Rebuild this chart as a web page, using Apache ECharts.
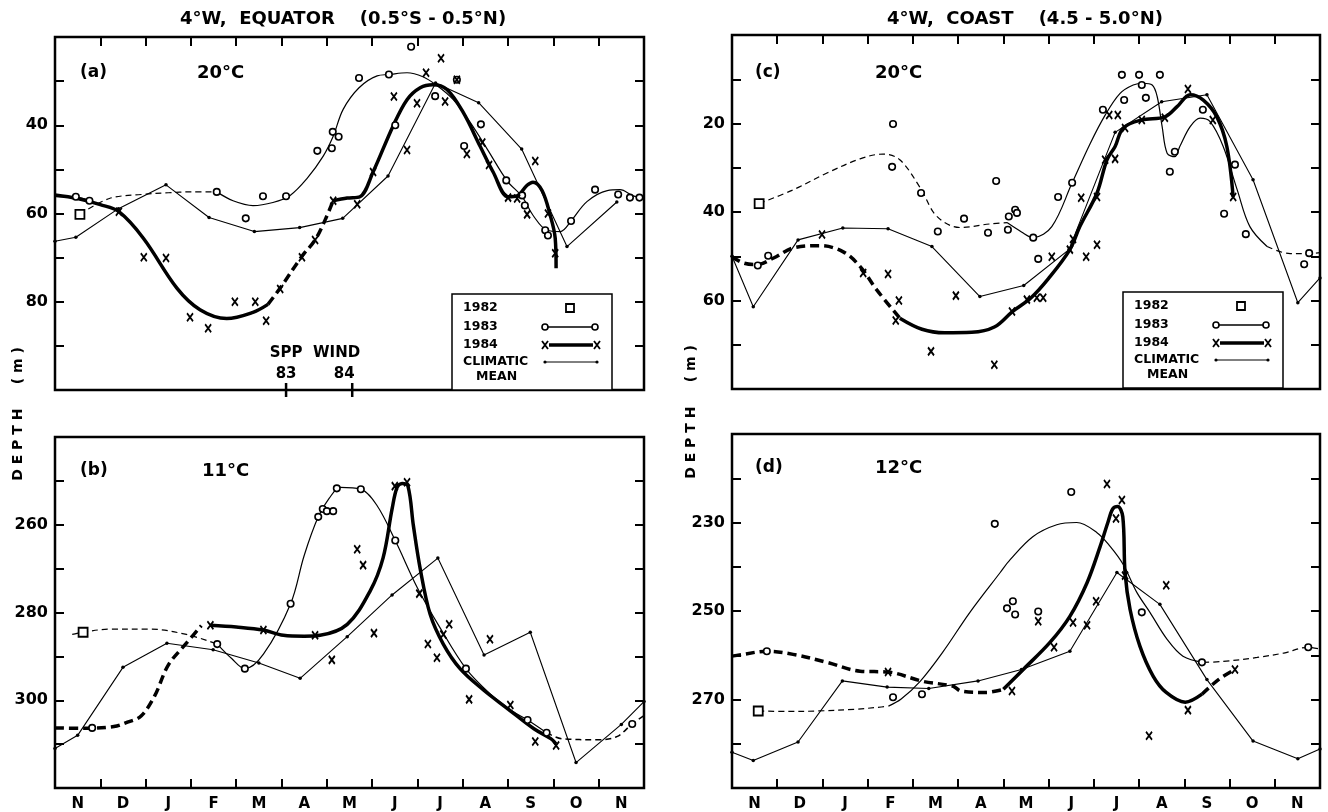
<!DOCTYPE html>
<html>
<head>
<meta charset="utf-8">
<title>4°W isotherm depth</title>
<style>
html, body { margin: 0; padding: 0; background: #fff; }
#chart { width: 1328px; height: 812px; }
</style>
</head>
<body>
<div id="chart"></div>
<script src="https://cdn.jsdelivr.net/npm/echarts@6/dist/echarts.min.js"></script>
<script>
// months from 1 Nov (x = 0) to 1 Dec next year (x = 13)
var months = ['N', 'D', 'J', 'F', 'M', 'A', 'M', 'J', 'J', 'A', 'S', 'O', 'N'];

// ---- (a) equator, 20°C ----
var a82 = [[0.55, 60.2]];
var a83Obs = [[0.46, 56.2], [0.76, 57.1], [3.57, 55.1], [4.21, 61.1], [4.59, 56.1], [5.1, 56.1], [5.79, 45.8], [6.11, 45.2], [6.13, 41.5], [6.26, 42.6], [6.71, 29.3], [7.37, 28.5], [7.51, 40], [7.86, 22.2], [8.39, 33.4], [8.87, 29.7], [9.03, 44.7], [9.4, 39.8], [9.96, 52.5], [10.31, 55.9], [10.37, 58.2], [10.82, 63.8], [10.88, 65], [11.39, 61.7], [11.92, 54.6], [12.43, 55.7], [12.69, 56.4], [12.9, 56.4]];
var a84Obs = [[1.41, 59.6], [1.96, 69.9], [2.45, 70.1], [2.98, 83.5], [3.38, 86], [3.97, 80], [4.42, 80], [4.66, 84.3], [4.97, 77.1], [5.45, 69.9], [5.74, 66], [6.14, 57.1], [6.67, 57.9], [7.02, 50.6], [7.48, 33.5], [7.77, 45.6], [7.99, 35], [8.19, 28.1], [8.52, 24.8], [8.61, 34.6], [8.87, 29.7], [9.09, 46.5], [9.43, 43.9], [9.58, 49], [10.0, 56.4], [10.2, 56.6], [10.42, 60.2], [10.6, 48.1], [10.88, 60], [11.04, 69]];
var a83Left = [[0, 56.2], [0.46, 56.3], [0.76, 57.1]];
var a83Dash = [[0.55, 60.2], [1.2, 56.6], [1.9, 55.7], [2.5, 55.3], [3.0, 55.1], [3.57, 55.1]];
var a83Line = [[3.57, 55.1], [3.93, 57.1], [4.37, 58.2], [4.81, 57.5], [5.19, 55.9], [5.56, 52.1], [5.92, 47], [6.14, 42.5], [6.36, 36.4], [6.71, 31.5], [7.11, 28.8], [7.37, 28.5], [7.77, 28.1], [8.12, 29], [8.43, 31], [8.79, 34.2], [9.16, 39.3], [9.54, 45.4], [9.98, 52.6], [10.31, 56.2], [10.55, 60.4], [10.86, 63.8], [11.15, 64.1], [11.39, 61.7], [11.74, 57.3], [12.19, 54.8], [12.47, 54.6], [12.76, 56], [13, 56.6]];
var a84Line = [[0, 55.8], [0.5, 56.6], [1.0, 58], [1.41, 59.6], [1.95, 65.6], [2.69, 76.9], [3.2, 81.8], [3.79, 83.8], [4.37, 82.4], [4.7, 80.6]];
var a84Dash = [[4.7, 80.6], [4.97, 76.9], [5.45, 69.7], [5.74, 66], [5.96, 61.5], [6.14, 57.1]];
var a84Line2 = [[6.14, 57.1], [6.45, 56.5], [6.73, 56.2], [7.02, 50.6], [7.46, 40.2], [7.77, 34.2], [8.06, 31.5], [8.34, 30.8], [8.65, 31.9], [9.01, 37.1], [9.38, 44.7], [9.67, 50.6], [10.0, 56.2], [10.2, 56], [10.42, 53.6], [10.55, 52.9], [10.75, 54.8], [10.93, 60.4], [11.04, 65.6], [11.06, 72.4]];
var aClim = [[0, 66.3], [0.46, 65.4], [1.4, 58.9], [2.45, 53.5], [3.4, 60.9], [4.4, 64.1], [5.4, 63.2], [6.35, 61.1], [7.35, 51.5], [8.4, 30.4], [9.35, 34.9], [10.3, 45.4], [11.3, 67.5], [12.4, 57.4]];
var sppWind = [[5.1, '83'], [6.56, '84']];

// ---- (b) equator, 11°C ----
var b82 = [[0.62, 284.5]];
var b83Obs = [[0.82, 306.3], [3.58, 287.2], [4.19, 292.8], [5.2, 278], [5.81, 258.2], [5.91, 256.4], [6.0, 256.9], [6.14, 256.9], [6.22, 251.7], [6.75, 251.9], [7.51, 263.6], [9.07, 292.8], [10.43, 304.5], [10.85, 307.4], [12.74, 305.4]];
var b84Obs = [[3.43, 282.9], [4.6, 284], [5.74, 285.2], [6.11, 290.8], [6.67, 265.6], [6.8, 269.2], [7.04, 284.7], [7.5, 251.2], [7.77, 250.3], [8.04, 275.7], [8.23, 287.2], [8.43, 290.3], [8.57, 285], [8.7, 282.7], [9.6, 286.1], [9.14, 299.8], [10.05, 301.1], [10.6, 309.4], [11.06, 310.3]];
var b83Dash = [[0.38, 285], [0.62, 284.5], [1.2, 283.8], [2.1, 283.8], [2.9, 285], [3.58, 287.2]];
var b83Line = [[3.58, 287.2], [3.9, 290.5], [4.19, 292.8], [4.6, 289.5], [5.2, 278], [5.5, 267], [5.81, 258.2], [6.05, 254], [6.3, 251.5], [6.75, 251.9], [7.1, 255.5], [7.51, 263.6], [8.0, 274.4], [8.5, 283.5], [9.07, 292.8], [9.6, 298.5], [10.1, 302.5], [10.43, 304.5], [10.85, 307.4]];
var b83Dash2 = [[10.85, 307.4], [11.2, 308.8], [12.0, 309], [12.4, 308.3], [12.74, 305.4], [13, 303.5]];
var b84Dash = [[0, 306.3], [0.64, 306.4], [1.3, 306], [1.6, 305], [1.9, 303.6], [2.2, 299], [2.5, 292], [2.9, 287], [3.23, 283]];
var b84Line = [[3.43, 282.9], [4.0, 283.3], [4.6, 284], [5.04, 285.2], [5.5, 285.4], [5.85, 285.2], [6.45, 282.7], [6.96, 275], [7.24, 267.6], [7.44, 256.4], [7.55, 251.5], [7.66, 250.6], [7.79, 251.2], [7.91, 260.2], [8.06, 270], [8.28, 280.4], [8.57, 287.2], [8.94, 292.8], [9.45, 297.6], [10.0, 302], [10.57, 306.5], [10.95, 308.8], [11.06, 310]];
var bClim = [[0, 311], [0.5, 308], [1.5, 292.5], [2.47, 287], [3.49, 288.5], [4.5, 291.5], [5.41, 295], [6.45, 285.5], [7.44, 276], [8.45, 267.6], [9.47, 289.7], [10.49, 284.5], [11.5, 314.2], [12.5, 305.5], [13, 300.3]];

// ---- (c) coast, 20°C ----
var c82 = [[0.6, 38.1]];
var c83Obs = [[0.57, 52.1], [0.8, 49.9], [3.56, 20.1], [3.54, 29.8], [4.18, 35.7], [4.55, 44.4], [5.13, 41.5], [5.66, 44.7], [5.84, 33], [6.1, 44], [6.12, 41], [6.26, 39.5], [6.3, 40.2], [6.66, 45.8], [6.77, 50.6], [7.21, 36.6], [7.52, 33.4], [8.2, 16.9], [8.62, 9], [8.67, 14.7], [9.0, 9], [9.06, 11.3], [9.15, 14.2], [9.46, 9], [9.68, 30.9], [9.79, 26.4], [10.41, 16.9], [10.88, 40.4], [11.12, 29.3], [11.36, 45], [12.65, 51.8], [12.76, 49.3]];
var c84Obs = [[1.99, 45.1], [2.9, 53.8], [3.45, 54], [3.69, 60], [3.62, 64.5], [4.95, 58.9], [4.4, 71.5], [5.8, 74.5], [6.19, 62.5], [6.52, 59.8], [6.74, 59.4], [6.88, 59.4], [7.07, 50.1], [7.47, 48.5], [7.54, 46.1], [7.83, 50.1], [8.07, 47.4], [7.72, 36.8], [8.07, 36.6], [8.25, 28.2], [8.47, 28], [8.34, 18.1], [8.53, 18.1], [8.69, 21], [9.06, 19.2], [9.57, 18.7], [10.08, 12.2], [10.63, 19.2], [11.08, 36.6]];
var c83Dash = [[0.6, 38.1], [1.35, 35], [2.1, 31.2], [2.83, 28], [3.34, 26.9], [3.71, 28.2], [4.16, 34.5], [4.53, 41], [5.04, 43.5], [5.7, 42.7], [6.08, 42.4]];
var c83Line = [[6.08, 42.4], [6.4, 44.5], [6.66, 45.8], [7.07, 43.3], [7.52, 33.4], [7.92, 24.5], [8.25, 18.1], [8.58, 13.2], [8.87, 11.3], [9.09, 10.9], [9.29, 11.3], [9.4, 13.9], [9.51, 20.7], [9.62, 26.7], [9.79, 27.5], [9.9, 25.2], [10.13, 20.7], [10.35, 18.8], [10.57, 19.6], [10.86, 25.2], [11.17, 35], [11.45, 43.3], [11.83, 47.8]];
var c83Dash2 = [[11.83, 47.8], [12.34, 49.4], [12.78, 49.4], [13, 49.2]];
var c84Dash = [[0, 50.1], [0.25, 51.5], [0.55, 51.9], [0.92, 50.4], [1.36, 48.1], [1.95, 47.6], [2.46, 49], [2.83, 52.3], [3.2, 57.6], [3.71, 64]];
var c84Line = [[3.71, 64], [4.2, 66.5], [4.7, 67.3], [5.3, 67.2], [5.8, 66], [6.2, 62.5], [6.6, 59.5], [7.0, 55], [7.47, 48.5], [7.69, 43.3], [8.07, 35.7], [8.29, 28.2], [8.47, 25.2], [8.65, 21], [9.06, 19.2], [9.57, 18.5], [9.84, 16.2], [10.13, 13.5], [10.42, 14.7], [10.72, 18.5], [10.94, 25.2], [11.08, 36.6]];
var cClim = [[0, 50], [0.47, 61.4], [1.46, 46.3], [2.45, 43.6], [3.45, 43.8], [4.42, 47.8], [5.48, 59.1], [6.45, 56.6], [7.45, 48.5], [8.47, 22], [9.5, 15.1], [10.5, 13.5], [11.52, 32.7], [12.51, 60.5], [13, 54.9]];

// ---- (d) coast, 12°C ----
var d82 = [[0.58, 272.6]];
var d83Obs = [[0.77, 259.1], [3.56, 269.5], [4.2, 268.8], [5.81, 230.3], [6.08, 249.4], [6.21, 247.8], [6.26, 250.8], [6.77, 250.1], [7.5, 223.1], [9.06, 250.3], [10.39, 261.6], [12.74, 258.2]];
var d84Obs = [[3.45, 263.8], [6.19, 268.1], [6.77, 252.3], [7.12, 258.2], [7.54, 252.6], [7.85, 253.2], [8.05, 247.8], [8.29, 221.3], [8.49, 229.1], [8.62, 224.9], [8.69, 242], [9.22, 278.2], [9.6, 244.2], [10.08, 272.4], [11.12, 263.2]];
var d83Dash = [[0.58, 272.6], [1.2, 272.7], [1.88, 272.6], [2.72, 272.2], [3.2, 271.8], [3.46, 271.5]];
var d83Line = [[3.46, 271.5], [3.74, 269.9], [4.16, 265.9], [4.66, 259.3], [5.26, 250.3], [5.93, 241.3], [6.15, 238.4], [6.65, 233.2], [7.18, 230.5], [7.62, 230], [8.07, 232.3], [8.36, 235.4], [8.65, 239.5], [8.95, 245.8], [9.24, 250.3], [9.62, 256.4], [9.97, 260.2], [10.42, 261.6]];
var d83Dash2 = [[10.42, 261.6], [10.86, 261.4], [11.61, 260.5], [12.2, 259.5], [12.74, 258.2], [13, 258.6]];
var d84Dash = [[0, 260.2], [0.24, 259.8], [0.77, 259.1], [1.35, 259.8], [2.1, 261.6], [2.83, 263.6], [3.45, 263.8], [4.22, 265.9], [4.89, 267], [5.06, 268.1], [5.62, 268.4], [6.0, 267.7]];
var d84Line = [[6.0, 267.7], [6.44, 263.2], [7.03, 257.1], [7.47, 251.2], [7.85, 243.6], [8.14, 235.4], [8.31, 230], [8.42, 226.9], [8.53, 226.4], [8.64, 228.7], [8.69, 241.3], [8.8, 249.6], [9.02, 258], [9.31, 264.7], [9.6, 268.4], [10.02, 270.6], [10.39, 268.8]];
var d84Dash2 = [[10.39, 268.8], [10.77, 265.4], [11.12, 263.2]];
var dClim = [[0, 281.9], [0.47, 283.8], [1.46, 279.6], [2.44, 265.8], [3.43, 267.2], [4.35, 267.5], [5.44, 265.8], [6.4, 263.2], [7.47, 259.1], [8.51, 241.3], [9.46, 248.5], [10.5, 265.5], [11.52, 279.4], [12.51, 283.4], [13, 281.2]];

var FONT = 'DejaVu Sans';
var chart = echarts.init(document.getElementById('chart'));

var grids = [
    { left: 55, top: 37, width: 589, height: 353 },
    { left: 55, top: 437, width: 589, height: 352 },
    { left: 732, top: 35, width: 588, height: 354 },
    { left: 732, top: 434, width: 588, height: 354 }
];
var yRanges = [[20, 100], [240, 320], [0, 80], [210, 290]];
var monthsOnBottom = [false, true, false, true];

var xAxes = [], yAxes = [];
grids.forEach(function (g, i) {
    g.show = true;
    g.borderColor = '#000';
    g.borderWidth = 2.5;
    g.containLabel = false;
    xAxes.push({ type: 'value', gridIndex: i, min: 0, max: 13, show: false });
    xAxes.push({
        type: 'category', gridIndex: i, data: months, boundaryGap: true,
        position: monthsOnBottom[i] ? 'bottom' : 'top',
        axisLine: { show: false },
        axisTick: { show: true, inside: true, length: 9, lineStyle: { color: '#000', width: 2 } },
        axisLabel: { show: monthsOnBottom[i], margin: 9, color: '#000', fontFamily: FONT, fontWeight: 'bold', fontSize: 15 },
        splitLine: { show: false }
    });
    var lo = yRanges[i][0], hi = yRanges[i][1];
    yAxes.push({
        type: 'value', gridIndex: i, min: lo, max: hi, interval: 10, inverse: true,
        axisLine: { show: false },
        axisTick: { inside: true, length: 9, lineStyle: { color: '#000', width: 2 } },
        axisLabel: {
            margin: 7, color: '#000', fontFamily: FONT, fontWeight: 'bold', fontSize: 16,
            formatter: function (v) { return ((v - lo) % 20 === 0 && v !== lo && v !== hi) ? v : ''; }
        },
        splitLine: { show: false }
    });
    yAxes.push({
        type: 'value', gridIndex: i, min: lo, max: hi, interval: 10, inverse: true, position: 'right',
        axisLine: { show: false },
        axisTick: { inside: true, length: 9, lineStyle: { color: '#000', width: 2 } },
        axisLabel: { show: false },
        splitLine: { show: false }
    });
});

var series = [];
function curve(g, data, width, dashed) {
    series.push({
        type: 'line', xAxisIndex: 2 * g, yAxisIndex: 2 * g, data: data,
        smooth: 0.35, showSymbol: false, silent: true, z: 2,
        lineStyle: { color: '#000', width: width, type: dashed ? (width > 2 ? [9, 5] : [6, 4]) : 'solid' }
    });
}
function clim(g, data) {
    series.push({
        type: 'line', xAxisIndex: 2 * g, yAxisIndex: 2 * g, data: data,
        showSymbol: true, symbol: 'circle', symbolSize: 3.5, silent: true, z: 2,
        itemStyle: { color: '#000', opacity: 1 },
        lineStyle: { color: '#000', width: 1.1 }
    });
}
function marks(g, data, kind) {
    var s = {
        type: 'scatter', xAxisIndex: 2 * g, yAxisIndex: 2 * g, data: data, silent: true, z: 4
    };
    if (kind === 'o') {
        s.symbol = 'circle'; s.symbolSize = 6.5;
        s.itemStyle = { color: '#fff', borderColor: '#000', borderWidth: 1.6, opacity: 1 };
    } else if (kind === 'x') {
        s.symbol = 'path://M0,0L10,12M10,0L0,12'; s.symbolSize = [6, 8];
        s.itemStyle = { color: 'none', borderColor: '#000', borderWidth: 1.9, opacity: 1 };
    } else {
        s.symbol = 'rect'; s.symbolSize = 9;
        s.itemStyle = { color: '#fff', borderColor: '#000', borderWidth: 1.8, opacity: 1 };
    }
    series.push(s);
}

// (a)
clim(0, aClim);
curve(0, a83Left, 1.2, false); curve(0, a83Dash, 1.2, true); curve(0, a83Line, 1.2, false);
curve(0, a84Line, 3.5, false); curve(0, a84Dash, 3.5, true); curve(0, a84Line2, 3.5, false);
marks(0, a82, 's'); marks(0, a83Obs, 'o'); marks(0, a84Obs, 'x');
series.push({
    type: 'scatter', xAxisIndex: 0, yAxisIndex: 0, silent: true, clip: false, z: 5,
    data: sppWind.map(function (d, k) {
        return { value: [d[0], 100], label: { formatter: d[1], offset: k === 1 ? [-8, 0] : [0, 0] } };
    }),
    symbol: 'rect', symbolSize: [2.5, 14], itemStyle: { color: '#000', opacity: 1 },
    label: { show: true, position: 'top', distance: 1, color: '#000', fontFamily: FONT, fontWeight: 'bold', fontSize: 15 }
});
// (b)
clim(1, bClim);
curve(1, b83Dash, 1.2, true); curve(1, b83Line, 1.2, false); curve(1, b83Dash2, 1.5, true);
curve(1, b84Dash, 3.5, true); curve(1, b84Line, 3.5, false);
marks(1, b82, 's'); marks(1, b83Obs, 'o'); marks(1, b84Obs, 'x');
// (c)
clim(2, cClim);
curve(2, c83Dash, 1.2, true); curve(2, c83Line, 1.2, false); curve(2, c83Dash2, 1.2, true);
curve(2, c84Dash, 3.5, true); curve(2, c84Line, 3.5, false);
marks(2, c82, 's'); marks(2, c83Obs, 'o'); marks(2, c84Obs, 'x');
// (d)
clim(3, dClim);
curve(3, d83Dash, 1.2, true); curve(3, d83Line, 1.2, false); curve(3, d83Dash2, 1.2, true);
curve(3, d84Dash, 3.5, true); curve(3, d84Line, 3.5, false); curve(3, d84Dash2, 3.5, true);
marks(3, d82, 's'); marks(3, d83Obs, 'o'); marks(3, d84Obs, 'x');

// text helpers for graphic
function txt(x, y, s, size, align) {
    return {
        type: 'text', x: x, y: y, z: 10,
        style: { text: s, fill: '#000', font: 'bold ' + size + 'px "' + FONT + '"', align: align || 'left', verticalAlign: 'middle' }
    };
}
function crossEl(cx, cy) {
    return {
        type: 'polyline', z: 10,
        shape: { points: [[cx - 3, cy - 4], [cx + 3, cy + 4], [cx, cy], [cx + 3, cy - 4], [cx - 3, cy + 4]] },
        style: { stroke: '#000', lineWidth: 1.8, fill: null }
    };
}
function legendBox(x0, y0) {
    return {
        type: 'group', x: x0, y: y0, z: 10,
        children: [
            { type: 'rect', shape: { x: 0, y: 0, width: 160, height: 96 }, style: { fill: '#fff', stroke: '#000', lineWidth: 1.5 } },
            txt(11, 14, '1982', 12.5), txt(11, 33, '1983', 12.5), txt(11, 51, '1984', 12.5),
            txt(11, 68, 'CLIMATIC', 12.5), txt(24, 83, 'MEAN', 12.5),
            { type: 'rect', shape: { x: 114, y: 10, width: 8, height: 8 }, style: { fill: '#fff', stroke: '#000', lineWidth: 1.8 } },
            { type: 'line', shape: { x1: 96, y1: 33, x2: 140, y2: 33 }, style: { stroke: '#000', lineWidth: 1.3 } },
            { type: 'circle', shape: { cx: 93, cy: 33, r: 3 }, style: { fill: '#fff', stroke: '#000', lineWidth: 1.6 } },
            { type: 'circle', shape: { cx: 143, cy: 33, r: 3 }, style: { fill: '#fff', stroke: '#000', lineWidth: 1.6 } },
            { type: 'line', shape: { x1: 97, y1: 51, x2: 141, y2: 51 }, style: { stroke: '#000', lineWidth: 3.5 } },
            crossEl(93, 51), crossEl(145, 51),
            { type: 'line', shape: { x1: 93, y1: 68, x2: 145, y2: 68 }, style: { stroke: '#000', lineWidth: 1 } },
            { type: 'circle', shape: { cx: 93, cy: 68, r: 1.6 }, style: { fill: '#000' } },
            { type: 'circle', shape: { cx: 145, cy: 68, r: 1.6 }, style: { fill: '#000' } }
        ]
    };
}
function vertical(x, y, s) {
    return {
        type: 'text', x: x, y: y, rotation: Math.PI / 2, z: 10,
        style: { text: s, fill: '#000', font: 'bold 14px "' + FONT + '"', align: 'center', verticalAlign: 'middle' }
    };
}

var option = {
    backgroundColor: '#fff',
    animation: false,
    grid: grids,
    xAxis: xAxes,
    yAxis: yAxes,
    series: series,
    graphic: [
        txt(343, 19, '4°W,  EQUATOR    (0.5°S - 0.5°N)', 18, 'center'),
        txt(1025, 19, '4°W,  COAST    (4.5 - 5.0°N)', 18, 'center'),
        txt(80, 73, '(a)', 17), txt(197, 73, '20°C', 18),
        txt(80, 471, '(b)', 17), txt(202, 471, '11°C', 18),
        txt(755, 73, '(c)', 17), txt(875, 73, '20°C', 18),
        txt(755, 468, '(d)', 17), txt(875, 468, '12°C', 18),
        txt(315, 353, 'SPP  WIND', 15, 'center'),
        vertical(18, 414, 'D E P T H     ( m )'),
        vertical(691, 412, 'D E P T H     ( m )'),
        legendBox(452, 294),
        legendBox(1123, 292)
    ]
};
chart.setOption(option);
</script>
</body>
</html>
